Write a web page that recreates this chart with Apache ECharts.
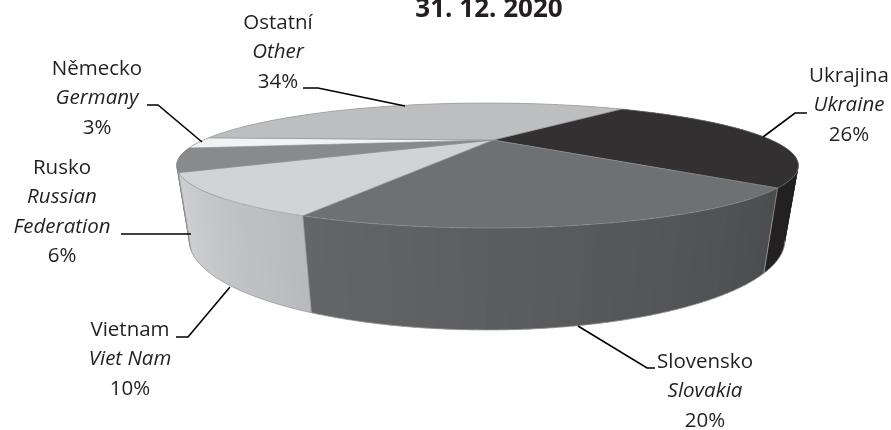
<!DOCTYPE html>
<html>
<head>
<meta charset="utf-8">
<title>31. 12. 2020</title>
<script src="https://cdn.jsdelivr.net/npm/echarts@6/dist/echarts.min.js"></script>
<style>
html, body { margin: 0; padding: 0; background: #fff; }
#main { width: 891px; height: 430px; }
</style>
</head>
<body>
<div id="main"></div>
<script>
var titleText = '31. 12. 2020';
var namesCz = ['Ukrajina', 'Slovensko', 'Vietnam', 'Rusko', 'Německo', 'Ostatní'];
var namesEn = ['Ukraine', 'Slovakia', 'Viet Nam', 'Russian\nFederation', 'Germany', 'Other'];
var shares = [26, 20, 10, 6, 3, 34];

var topColors = ['#323031', '#6f7073', '#d2d3d5', '#898a8c', '#f1f2f2', '#bcbec0'];
// wall shade at the start and at the end of each slice (clockwise)
var wallFrom = ['#1f1d1e', '#4c4d4f', '#b9babd', '#808183', '#808183', '#bcbec0'];
var wallTo = ['#232122', '#656668', '#d0d1d3', '#808183', '#808183', '#bcbec0'];

// label anchor (centre x, first line centre y) and leader lines, in pixels
var labelPos = [[849, 76], [705, 362], [130, 330], [62, 168], [97, 69], [278, 23]];
var leaders = [
    [[807, 113], [795, 113], [763, 137]],
    [[655, 368], [647, 368], [578, 326]],
    [[176, 337], [188, 337], [230, 287]],
    [[121, 234], [191, 234]],
    [[147, 105], [158, 105], [202, 142]],
    [[303, 88], [318, 88], [405, 106]]
];

// ellipses of the top face and of the bottom rim; tilt moves the apex off centre
var topFace = { cx: 487.5, cy: 165.5, rx: 311, ry: 62.5, tilt: -0.408 };
var bottomFace = { cx: 487, cy: 240, rx: 298, ry: 90, tilt: -0.40 };
var startAngle = -51.5;
var rimFrom = 24, rimTo = 156; // part of the bottom rim that can be seen

// labels are rounded and sum to 99, the last slice closes the circle
var bounds = [startAngle];
for (var i = 0; i < shares.length - 1; i++) {
    bounds.push(bounds[i] + shares[i] * 3.6);
}
bounds.push(startAngle + 360);

function project(face, deg) {
    var u = Math.cos(deg * Math.PI / 180);
    var v = Math.sin(deg * Math.PI / 180);
    var d = 1 + face.tilt * v;
    return [
        face.cx + face.rx * u * Math.sqrt(1 - face.tilt * face.tilt) / d,
        face.cy + face.ry * (v + face.tilt) / d
    ];
}

function arc(face, a0, a1) {
    var pts = [];
    var steps = Math.ceil(Math.abs(a1 - a0) / 2);
    for (var s = 0; s <= steps; s++) {
        pts.push(project(face, a0 + (a1 - a0) * s / steps));
    }
    return pts;
}

function renderWall(params) {
    var i = params.dataIndex;
    var a0 = bounds[i], a1 = bounds[i + 1];
    var steps = Math.ceil((a1 - a0) / 1.5);
    var children = [];
    var depth = Math.round(Math.sin((a0 + a1) / 2 * Math.PI / 180) * 1000) + 1000;
    for (var s = 0; s < steps; s++) {
        var b0 = a0 + (a1 - a0) * s / steps;
        var b1 = Math.min(a1, a0 + (a1 - a0) * (s + 1) / steps + 1);
        var c = echarts.color.lerp(s / steps, [wallFrom[i], wallTo[i]]);
        children.push({
            type: 'polygon',
            z2: depth,
            shape: { points: [project(topFace, b0), project(topFace, b1), project(bottomFace, b1), project(bottomFace, b0)] },
            style: { fill: c }
        });
    }
    // visible rim and the edge where the slice starts
    var r0 = Math.max(a0, rimFrom), r1 = Math.min(a1, rimTo);
    if (r1 > r0) {
        children.push({
            type: 'polyline',
            z2: 3000,
            shape: { points: arc(bottomFace, r0, r1) },
            style: { fill: null, stroke: '#9a9b9d', lineWidth: 0.8 }
        });
    }
    if (a0 > -20 && a0 < 170) {
        var p = project(topFace, a0), q = project(bottomFace, a0);
        children.push({
            type: 'line',
            z2: 3000,
            shape: { x1: p[0], y1: p[1], x2: q[0], y2: q[1] },
            style: { stroke: '#9a9b9d', lineWidth: 0.8 }
        });
    }
    return { type: 'group', children: children };
}

function renderTop(params) {
    var i = params.dataIndex;
    var d = topFace;
    var apex = [d.cx + 5.5, d.cy + d.ry * d.tilt];
    var pts = [apex].concat(arc(topFace, bounds[i], bounds[i + 1]));
    return {
        type: 'polygon',
        shape: { points: pts },
        style: { fill: topColors[i], stroke: '#8f9092', lineWidth: 0.6 }
    };
}

var graphics = [];
for (var i = 0; i < namesCz.length; i++) {
    var lines = [namesCz[i]];
    namesEn[i].split('\n').forEach(function (t) {
        lines.push('{en|' + t + '}');
    });
    lines.push(shares[i] + '%');
    graphics.push({
        type: 'text',
        x: labelPos[i][0],
        y: labelPos[i][1] - 14.7,
        style: {
            text: lines.join('\n'),
            font: '20.5px "Open Sans"',
            fill: '#231f20',
            align: 'center',
            verticalAlign: 'top',
            lineHeight: 29.4,
            rich: {
                en: { font: 'italic 20.5px "Open Sans"', fill: '#231f20', lineHeight: 29.4 }
            }
        }
    });
    graphics.push({
        type: 'polyline',
        shape: { points: leaders[i] },
        style: { stroke: '#000', lineWidth: 1.6, fill: null },
        z: 10
    });
}

var myChart = echarts.init(document.getElementById('main'));
myChart.setOption({
    animation: false,
    backgroundColor: '#fff',
    title: {
        text: titleText,
        left: 484,
        top: -8,
        textAlign: 'center',
        textStyle: { fontFamily: 'Open Sans', fontSize: 26, fontWeight: 'bold', color: '#231f20' }
    },
    graphic: graphics,
    series: [
        { type: 'custom', coordinateSystem: 'none', silent: true, renderItem: renderWall, data: shares, z: 1 },
        { type: 'custom', coordinateSystem: 'none', silent: true, renderItem: renderTop, data: shares, z: 2 }
    ]
});
</script>
</body>
</html>
